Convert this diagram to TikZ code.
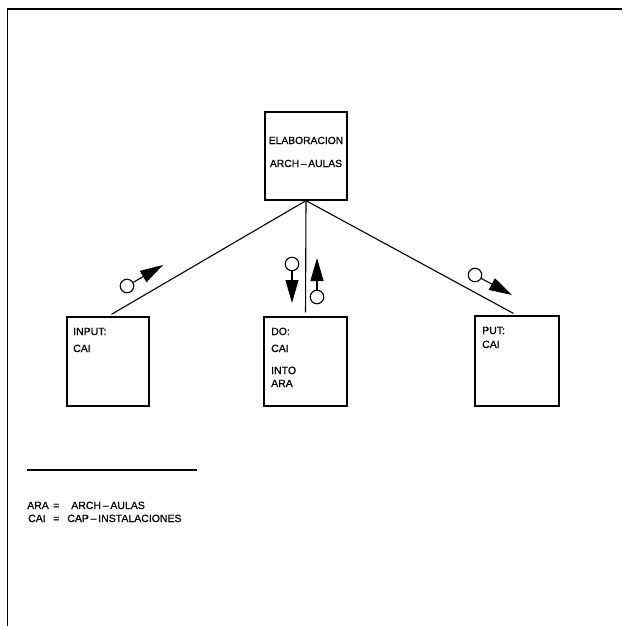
\documentclass[tikz,border=0pt]{standalone}
\usepackage{fontspec}
\setmainfont{Liberation Sans}
\newfontfamily\scanfont[FakeBold=0.6]{Liberation Sans}
\usetikzlibrary{arrows.meta}
\begin{document}
\begin{tikzpicture}[x=1pt,y=-1pt,
  box/.style={draw,line width=1.3pt,minimum width=82pt,minimum height=88pt,inner sep=0pt},
  lbl/.style={anchor=base west,inner sep=0pt,font=\scanfont\fontsize{10.5}{12}\selectfont},
  clbl/.style={anchor=base,inner sep=0pt,font=\scanfont\fontsize{10.3}{12}\selectfont},
  leg/.style={anchor=base west,inner sep=0pt,font=\scanfont\fontsize{10.5}{12}\selectfont},
  conn/.style={line width=1.1pt},
  couple/.style={draw,circle,line width=1.1pt,minimum size=13.5pt,inner sep=0pt},
  flow/.style={line width=1.1pt,-{Triangle[length=23pt,width=13pt]}}]
\useasboundingbox (0,0) rectangle (622,626);
\draw[line width=1.6pt] (7.5,626) -- (7.5,9) -- (622,9);
% boxes
\node[box] (top) at (306,156) {};
\node[box,minimum height=89pt] (left) at (108,361.5) {};
\node[box,minimum width=83pt,minimum height=89pt] (mid) at (305.5,361.5) {};
\node[box,minimum width=84pt,minimum height=90pt] (right) at (517,361) {};
% texts
\node[clbl] (t1) at (306,144) {ELABORACION};
\node[clbl] (t2) at (306,167) {ARCH\,–\,AULAS};
\node[lbl] (l1) at (73,335) {INPUT:};
\node[lbl] (l2) at (73,352) {CAI};
\node[lbl] (m1) at (271,335) {DO:};
\node[lbl] (m2) at (271,352) {CAI};
\node[lbl] (m3) at (271,374) {INTO};
\node[lbl] (m4) at (271,387) {ARA};
\node[lbl] (r1) at (482,334) {PUT:};
\node[lbl] (r2) at (482,348) {CAI};
% connectors
\draw[conn,shorten >=4pt] (top.south) -- (left.north);
\draw[conn,shorten >=4pt] (top.south) -- (mid.north);
\draw[conn,shorten >=4pt] (top.south) -- (right.north);
% couples
\node[couple] (c1) at (127,286) {};
\coordinate (e1) at (163,265);
\draw[flow] (c1) -- (e1);
\node[couple] (c2) at (292,264) {};
\coordinate (e2) at (292,303);
\draw[flow] (c2) -- (e2);
\node[couple] (c3) at (317,297) {};
\coordinate (e3) at (317,258);
\draw[flow] (c3) -- (e3);
\node[couple] (c4) at (475,275) {};
\coordinate (e4) at (512,295);
\draw[flow] (c4) -- (e4);
% legend
\coordinate (la) at (27,470);
\coordinate (lb) at (197,470);
\draw[conn] (la) -- (lb);
\node[leg] (g1) at (27,509) {\makebox[26pt][l]{ARA}=\hspace{12pt}ARCH\,–\,AULAS};
\node[leg] (g2) at (28,522) {\makebox[25pt][l]{CAI}=\hspace{8pt}CAP\,–\,INSTALACIONES};
\end{tikzpicture}
\end{document}
